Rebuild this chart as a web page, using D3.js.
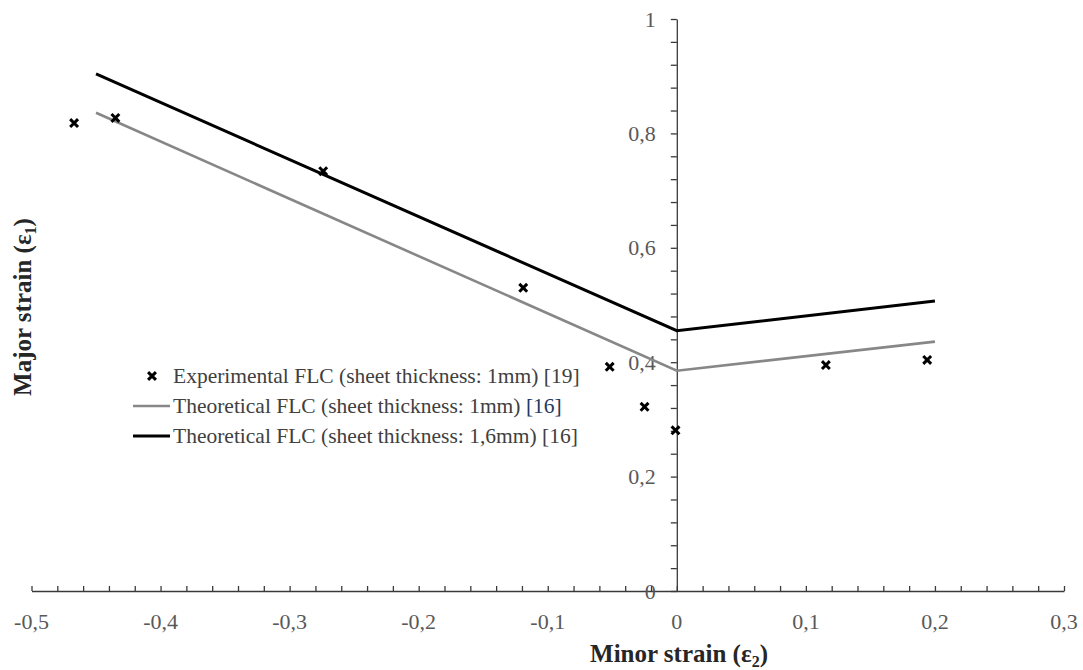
<!DOCTYPE html>
<html>
<head>
<meta charset="utf-8">
<script src="https://cdn.jsdelivr.net/npm/d3@7/dist/d3.min.js"></script>
<style>
  html, body { margin: 0; padding: 0; background: #ffffff; }
  svg { display: block; }
</style>
</head>
<body>
<script>
// ---- data ----
const expX = [-0.467, -0.435, -0.274, -0.119, -0.052, -0.025, -0.001, 0.1155, 0.194];
const expY = [0.818, 0.827, 0.734, 0.530, 0.392, 0.322, 0.281, 0.395, 0.404];
const theo1X = [-0.45, 0, 0.2];
const theo1Y = [0.836, 0.385, 0.436];
const theo16X = [-0.45, 0, 0.2];
const theo16Y = [0.904, 0.455, 0.507];
const xTickValues = [-0.5, -0.4, -0.3, -0.2, -0.1, 0, 0.1, 0.2, 0.3];
const xTickLabels = ["-0,5", "-0,4", "-0,3", "-0,2", "-0,1", "0", "0,1", "0,2", "0,3"];
const yTickValues = [0, 0.2, 0.4, 0.6, 0.8, 1];
const yTickLabels = ["0", "0,2", "0,4", "0,6", "0,8", "1"];
const legendLabels = [
  "Experimental FLC (sheet thickness: 1mm) ",
  "Theoretical FLC (sheet thickness: 1mm) ",
  "Theoretical FLC (sheet thickness: 1,6mm) "
];
const legendRefs = ["[19]", "[16]", "[16]"];

// ---- layout ----
const W = 1083, H = 670;
const FONT = "'Liberation Serif', 'Times New Roman', 'DejaVu Serif', serif";
const svg = d3.select("body").append("svg").attr("width", W).attr("height", H)
  .attr("font-family", FONT);

const x = d3.scaleLinear().domain([-0.5, 0.3]).range([31.5, 1064]);
const y = d3.scaleLinear().domain([0, 1]).range([591, 19]);

const axisColor = "#3a3a3a";
const labelColor = "#595959";

// x minor ticks every 0.02 (upward)
const xMinor = d3.range(0, 41).map(i => -0.5 + i * 0.02);
const gx = svg.append("g").attr("transform", `translate(0,${y(0)})`)
  .call(d3.axisTop(x).tickValues(xMinor).tickSize(5).tickSizeOuter(0).tickFormat(""));
gx.selectAll("path,line").attr("stroke", axisColor).attr("stroke-width", 1.3);

// y minor ticks every 0.04 (leftward)
const yMinor = d3.range(0, 26).map(i => i * 0.04);
const gy = svg.append("g").attr("transform", `translate(${x(0)},0)`)
  .call(d3.axisLeft(y).tickValues(yMinor).tickSize(6).tickSizeOuter(0).tickFormat(""));
gy.selectAll("path,line").attr("stroke", axisColor).attr("stroke-width", 1.3);

// x tick labels
svg.append("g").selectAll("text").data(xTickValues).join("text")
  .attr("x", d => x(d)).attr("y", 629)
  .attr("text-anchor", "middle").attr("font-family", FONT)
  .attr("font-size", 22).attr("fill", labelColor)
  .text((d, i) => xTickLabels[i]);

// y tick labels
svg.append("g").selectAll("text").data(yTickValues).join("text")
  .attr("x", x(0) - 21).attr("y", d => y(d) + 7.5)
  .attr("text-anchor", "end").attr("font-family", FONT)
  .attr("font-size", 22).attr("fill", labelColor)
  .text((d, i) => yTickLabels[i]);

// axis titles
const xt = svg.append("text").attr("x", 679).attr("y", 662).attr("font-family", FONT)
  .attr("text-anchor", "middle").attr("font-size", 25).attr("font-weight", "bold").attr("fill", "#262626");
xt.append("tspan").text("Minor strain (ε");
xt.append("tspan").attr("font-size", 16).attr("dy", 5).text("2");
xt.append("tspan").attr("dy", -5).text(")");

const yt = svg.append("text").attr("transform", `translate(31,307) rotate(-90)`).attr("font-family", FONT)
  .attr("text-anchor", "middle").attr("font-size", 25).attr("font-weight", "bold").attr("fill", "#262626");
yt.append("tspan").text("Major strain (ε");
yt.append("tspan").attr("font-size", 16).attr("dy", 5).text("1");
yt.append("tspan").attr("dy", -5).text(")");

// lines
const line = d3.line().x(d => x(d[0])).y(d => y(d[1]));
svg.append("path").datum(d3.zip(theo1X, theo1Y)).attr("d", line)
  .attr("fill", "none").attr("stroke", "#878787").attr("stroke-width", 2.6);
svg.append("path").datum(d3.zip(theo16X, theo16Y)).attr("d", line)
  .attr("fill", "none").attr("stroke", "#000000").attr("stroke-width", 3);

// markers
const xSym = d3.symbol().type(d3.symbolTimes).size(42);
svg.append("g").selectAll("path").data(d3.zip(expX, expY)).join("path")
  .attr("transform", d => `translate(${x(d[0])},${y(d[1])})`)
  .attr("d", xSym).attr("fill", "none").attr("stroke", "#000").attr("stroke-width", 3);

// legend
const lg = svg.append("g");
const rowY = [376, 406, 436];
lg.append("path").attr("transform", `translate(152,${rowY[0]})`)
  .attr("d", xSym).attr("fill", "none").attr("stroke", "#000").attr("stroke-width", 3);
lg.append("line").attr("x1", 133).attr("x2", 170).attr("y1", rowY[1]).attr("y2", rowY[1])
  .attr("stroke", "#878787").attr("stroke-width", 2.6);
lg.append("line").attr("x1", 133).attr("x2", 170).attr("y1", rowY[2]).attr("y2", rowY[2])
  .attr("stroke", "#000").attr("stroke-width", 3);
legendLabels.forEach((t, i) => {
  const tx = lg.append("text").attr("x", 173).attr("y", rowY[i] + 7).attr("font-family", FONT)
    .attr("font-size", 21.5).attr("fill", "#404040");
  tx.append("tspan").text(t);
  tx.append("tspan").attr("fill", i === 1 ? "#1f3864" : "#404040").text(legendRefs[i]);
});
</script>
</body>
</html>
